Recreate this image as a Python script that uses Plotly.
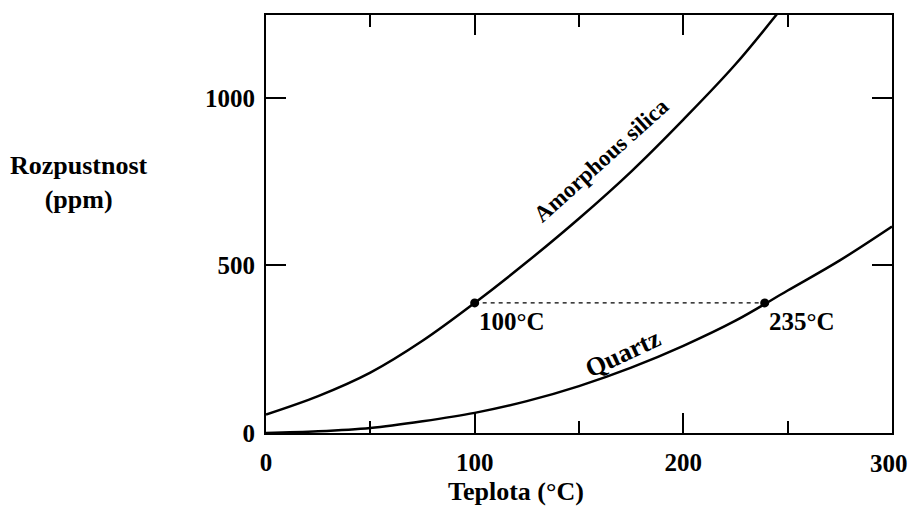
import plotly.graph_objects as go

# temperature grid (°C) and solubility (ppm)
temp_amorph = [0, 25, 50, 75, 100, 125, 150, 175, 200, 225, 250]
sol_amorph = [55, 110, 180, 275, 388, 510, 640, 780, 935, 1100, 1290]

temp_quartz = [0, 25, 50, 75, 100, 125, 150, 175, 200, 225, 250, 275, 300]
sol_quartz = [0, 5, 15, 35, 60, 95, 140, 195, 260, 335, 425, 515, 616]

# same solubility reached by both forms
dot_temp = [100, 239]
dot_sol = [388, 388]
dot_labels = ["100°C", "235°C"]

x_ticks = [0, 100, 200, 300]
x_tick_text = ["0", "100", "200", "300"]
x_minor = [50, 150, 250]
y_ticks = [0, 500, 1000]

FONT = "Liberation Serif"

fig = go.Figure()
fig.add_trace(go.Scatter(x=temp_amorph, y=sol_amorph, mode="lines", line_shape="spline",
                         line=dict(color="black", width=2.5), showlegend=False))
fig.add_trace(go.Scatter(x=temp_quartz, y=sol_quartz, mode="lines", line_shape="spline",
                         line=dict(color="black", width=2.5), showlegend=False))
fig.add_trace(go.Scatter(x=dot_temp, y=dot_sol, mode="lines",
                         line=dict(color="black", width=1.2, dash="4px,4px"), showlegend=False))
fig.add_trace(go.Scatter(x=dot_temp, y=dot_sol, mode="markers",
                         marker=dict(color="black", size=9), showlegend=False))

for t, s, lab in zip(dot_temp, dot_sol, dot_labels):
    fig.add_annotation(x=t, y=s, text=lab, showarrow=False, xanchor="left", yanchor="top",
                       xshift=2, yshift=-3, font=dict(size=25, family=FONT, color="black"))

fig.add_annotation(x=160.5, y=814, text="Amorphous silica", showarrow=False, textangle=-42,
                   font=dict(size=23, family=FONT, color="black"))
fig.add_annotation(x=171, y=238, text="Quartz", showarrow=False, textangle=-25,
                   font=dict(size=26, family=FONT, color="black"))

fig.add_annotation(x=-0.298, y=0.6, xref="paper", yref="paper", text="Rozpustnost<br>(ppm)",
                   xanchor="center", yanchor="middle", align="center",
                   showarrow=False, font=dict(size=26, family=FONT, color="black"))
fig.add_annotation(x=0.40, y=-0.139, xref="paper", yref="paper", text="Teplota (°C)",
                   xanchor="center", yanchor="middle",
                   showarrow=False, font=dict(size=26, family=FONT, color="black"))

# the last tick label sits on the right edge of the figure, plotly would hide it,
# so it is drawn as an annotation instead
fig.add_annotation(x=x_ticks[-1], y=0, yref="paper", text=x_tick_text[-1], showarrow=False,
                   xanchor="center", yanchor="middle", xshift=-3, yshift=-30,
                   font=dict(size=25, family=FONT, color="black"))

fig.update_xaxes(range=[0, 300], tickvals=x_ticks, ticktext=x_tick_text[:-1] + [""],
                 ticks="inside", ticklen=20, tickwidth=1.5,
                 tickcolor="black", showline=True, linecolor="black", linewidth=2, mirror="ticks",
                 showgrid=False, zeroline=False, ticklabelstandoff=6,
                 minor=dict(tickvals=x_minor, ticks="inside", ticklen=12, tickwidth=1.5, tickcolor="black"),
                 tickfont=dict(size=25, family=FONT, color="black"))
fig.update_yaxes(range=[0, 1247], tickvals=y_ticks, ticks="inside", ticklen=20, tickwidth=1.5,
                 tickcolor="black", showline=True, linecolor="black", linewidth=2, mirror="ticks",
                 showgrid=False, zeroline=False, ticklabelstandoff=4,
                 tickfont=dict(size=25, family=FONT, color="black"))

fig.update_layout(width=910, height=506, autosize=False,
                  margin=dict(l=266, r=18, t=15, b=73),
                  plot_bgcolor="white", paper_bgcolor="white",
                  font=dict(family=FONT, weight="bold", color="black"))

# drop the default body margin so the figure fills the window exactly
fig.write_html("out.html", config={"displayModeBar": False},
               post_script="document.body.style.margin='0';document.body.style.overflow='hidden';")
